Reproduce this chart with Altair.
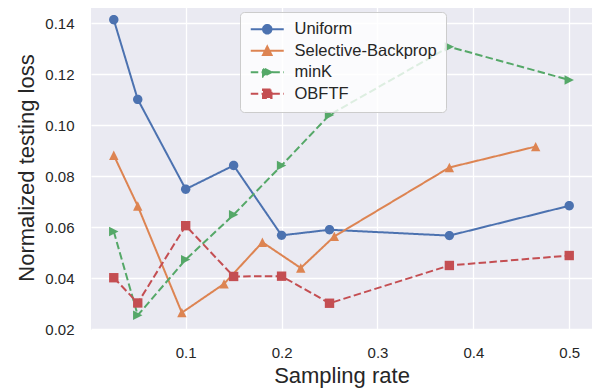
import altair as alt
import pandas as pd

series = ["Uniform", "Selective-Backprop", "minK", "OBFTF"]
colors = ["#4C72B0", "#DD8452", "#55A868", "#C44E52"]
dashes = [[1, 0], [1, 0], [7.5, 3.3], [7.5, 3.3]]

uniform_x = [0.025, 0.05, 0.1, 0.15, 0.2, 0.25, 0.375, 0.5]
uniform_y = [0.1413, 0.1101, 0.0749, 0.0842, 0.0568, 0.0590, 0.0567, 0.0684]

sb_x = [0.025, 0.05, 0.096, 0.14, 0.18, 0.22, 0.255, 0.375, 0.465]
sb_y = [0.0882, 0.0683, 0.0265, 0.0378, 0.0541, 0.0440, 0.0564, 0.0834, 0.0916]

mink_x = [0.025, 0.05, 0.1, 0.15, 0.2, 0.25, 0.375, 0.5]
mink_y = [0.0583, 0.0255, 0.0473, 0.0649, 0.0842, 0.1040, 0.1307, 0.1177]

obftf_x = [0.025, 0.05, 0.1, 0.15, 0.2, 0.25, 0.375, 0.5]
obftf_y = [0.0402, 0.0303, 0.0606, 0.0407, 0.0408, 0.0302, 0.0450, 0.0489]

x_ticks = [0.1, 0.2, 0.3, 0.4, 0.5]
y_ticks = [0.02, 0.04, 0.06, 0.08, 0.10, 0.12, 0.14]

rows = []
for name, xs, ys in [("Uniform", uniform_x, uniform_y),
                     ("Selective-Backprop", sb_x, sb_y),
                     ("minK", mink_x, mink_y),
                     ("OBFTF", obftf_x, obftf_y)]:
    for i, (a, b) in enumerate(zip(xs, ys)):
        rows.append({"series": name, "rate": a, "loss": b, "order": i})
df = pd.DataFrame(rows)

# matplotlib-like 5% margins
all_x = uniform_x + sb_x + mink_x + obftf_x
all_y = uniform_y + sb_y + mink_y + obftf_y
px = (max(all_x) - min(all_x)) * 0.05
py = (max(all_y) - min(all_y)) * 0.05
x_dom = [min(all_x) - px, max(all_x) + px]
y_dom = [min(all_y) - py, max(all_y) + py]

# marker paths (unit box -1..1)
marker_paths = [
    "M-1,0A1,1,0,1,1,1,0A1,1,0,1,1,-1,0Z",
    "M0,-1L1,1L-1,1Z",
    "M1,0L-1,-1L-1,1Z",
    "M-1,-1H1V1H-1Z",
]
# legend symbols: line + marker
ln = "M-1.53,0H6.25"
legend_paths = [
    ln + "M1.36,0A1,1,0,1,1,3.36,0A1,1,0,1,1,1.36,0Z",
    ln + "M2.36,-1L3.36,1L1.36,1Z",
    ln + "M3.36,0L1.36,-1L1.36,1Z",
    ln + "M1.36,-1H3.36V1H1.36Z",
]

color_scale = alt.Scale(domain=series, range=colors)

legend = alt.Legend(
    title=None,
    orient="none",
    legendX=149,
    legendY=7,
    padding=9,
    rowPadding=4.5,
    symbolSize=72,
    symbolStrokeWidth=2,
    symbolOpacity=1,
    labelOffset=29,
    labelFontSize=16.5,
    labelColor="#262626",
    labelFont="Liberation Sans",
    fillColor="rgba(255,255,255,0.8)",
    strokeColor="#cccccc",
    cornerRadius=4,
)

x_enc = alt.X("rate:Q", scale=alt.Scale(domain=x_dom, nice=False, zero=False),
              axis=alt.Axis(values=x_ticks, format=".1f", title="Sampling rate",
                            labelPadding=15, titlePadding=5))
y_enc = alt.Y("loss:Q", scale=alt.Scale(domain=y_dom, nice=False, zero=False),
              axis=alt.Axis(values=y_ticks, format=".2f", title="Normalized testing loss",
                            labelPadding=17, titlePadding=6))

base = alt.Chart(df)
layers = []
for name, col, dash, path in zip(series, colors, dashes, marker_paths):
    sub = base.transform_filter(alt.datum.series == name)
    layers.append(
        sub.mark_line(strokeWidth=2, strokeDash=dash, color=col).encode(
            x=x_enc, y=y_enc, order="order:Q"
        )
    )
    layers.append(
        sub.mark_point(shape=path, filled=True, size=88, opacity=1, color=col).encode(
            x=x_enc, y=y_enc
        )
    )

legend_layer = base.mark_point(
    filled=True, size=72, opacity=1, strokeWidth=2
).encode(
    color=alt.Color("series:N", scale=color_scale, legend=legend),
    stroke=alt.Stroke("series:N", scale=color_scale, legend=legend),
    shape=alt.Shape("series:N", scale=alt.Scale(domain=series, range=legend_paths), legend=legend),
    strokeDash=alt.StrokeDash("series:N", scale=alt.Scale(domain=series, range=dashes), legend=legend),
    opacity=alt.value(0),
)
layers.insert(0, legend_layer)

chart = alt.layer(*layers).properties(
    width=501,
    height=325,
    autosize=alt.AutoSizeParams(type="none"),
    padding={"left": 83, "top": -3, "right": 0, "bottom": 58},
).configure_view(
    fill="#EAEAF2", stroke=None
).configure_axis(
    grid=True, gridColor="white", gridWidth=1.3, domain=False, ticks=False, tickSize=0,
    labelFontSize=15, labelColor="#262626", labelFont="Liberation Sans",
    titleFontSize=22, titleColor="#262626", titleFont="Liberation Sans", titleFontWeight="normal",
)

chart.save("out.html", embed_options={"renderer": "svg", "actions": False})
